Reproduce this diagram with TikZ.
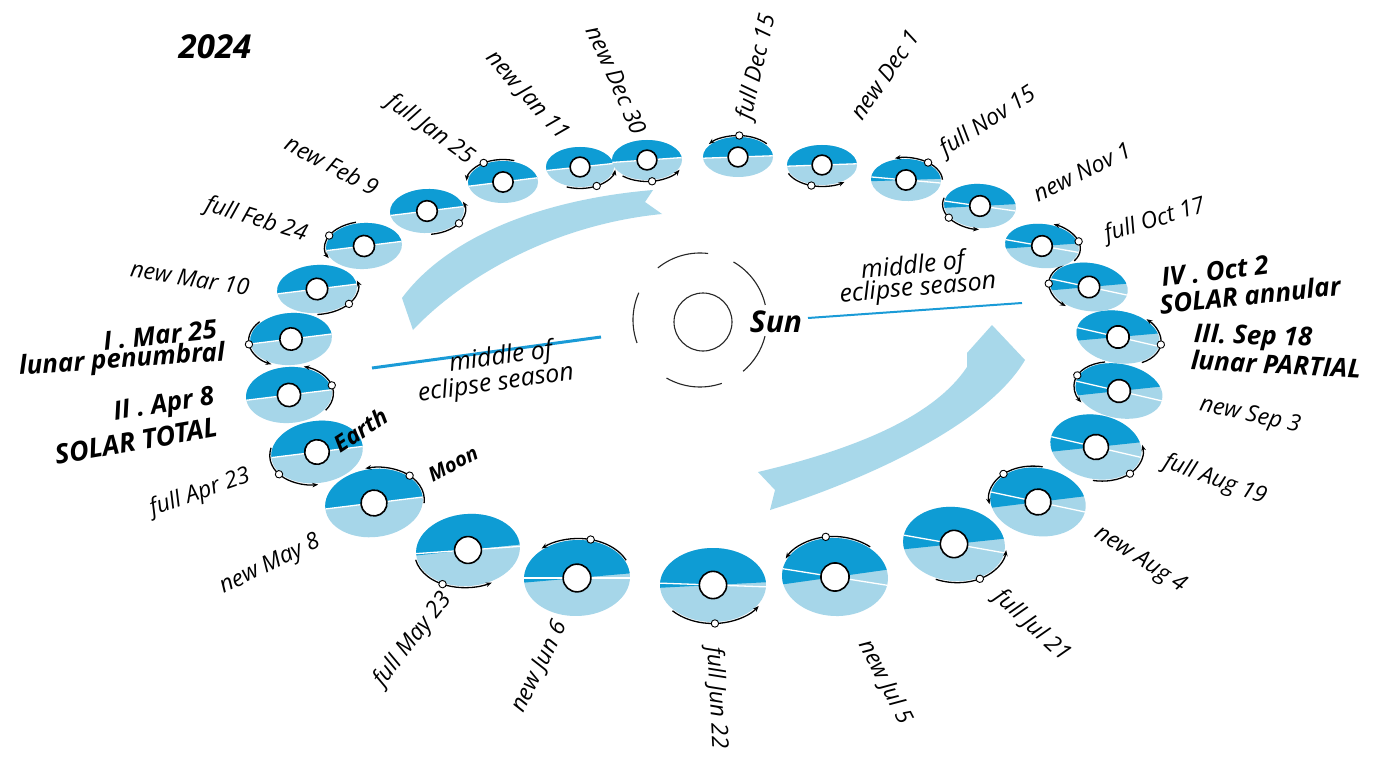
\documentclass[tikz,border=0pt]{standalone}
\usepackage{fontspec}
\setmainfont{Open Sans}
\usetikzlibrary{arrows.meta,calc}
\definecolor{darkb}{RGB}{14,156,212}
\definecolor{lightb}{RGB}{166,214,233}
\definecolor{ribbon}{RGB}{168,216,234}
\definecolor{seasonline}{RGB}{26,155,215}
\tikzset{
  lab/.style={font=\fontsize{23}{26}\selectfont\itshape, inner sep=0pt},
  blab/.style={font=\fontsize{26}{29}\selectfont\bfseries\itshape, inner sep=0pt},
  orbarc/.style={black, line width=1.3pt, -{Stealth[length=6pt,width=4.5pt]}},
  earthc/.style={draw=black, fill=white, line width=1.6pt},
  moonc/.style={draw=black, fill=white, line width=0.9pt},
  ribbonfill/.style={fill=ribbon, draw=none},
  seasonln/.style={draw=seasonline},
  sunring/.style={draw=black!85, line width=1.1pt}
}
% #1 cx, #2 cy, #3 rx, #4 ry, #5 rotation, #6 boundary tilt, #7 white line tilt, #8 moon angle
\newcommand\orbdisk[8]{%
\begin{scope}[shift={(#1,#2)}, rotate=#5]
  \begin{scope}
    \clip (0,0) ellipse [x radius=#3, y radius=#4];
    \fill[lightb] (-70,-70) rectangle (70,70);
    \fill[darkb, rotate={#6-(#5)}] (-90,0) rectangle (90,-90);
    \draw[white, line width=1.3pt, rotate={#7-(#5)}] (-90,0) -- (90,0);
  \end{scope}
  \pgfmathsetmacro\ra{#3+1.5}%
  \pgfmathsetmacro\rb{#4+1.5}%
  \pgfmathsetmacro\sa{#8+50}%
  \pgfmathsetmacro\ea{#8-55}%
  \pgfmathsetmacro\er{5.5+0.22*#4}%
  \draw[orbarc] (\sa:\ra\space and \rb) arc[start angle=\sa, end angle=\ea, x radius=\ra, y radius=\rb];
  \draw[moonc] (#8:\ra\space and \rb) circle[radius=3.7];
  \draw[earthc] (0,0) circle[radius=\er];
\end{scope}}
\begin{document}
\begin{tikzpicture}[x=1pt,y=-1pt]
\useasboundingbox (0,0) rectangle (1392,778);
\fill[white] (0,0) rectangle (1392,778);

% ribbons (Earth's motion)
\fill[ribbonfill] (402,298) .. controls (445,240) and (535,200) .. (653,190)
   -- (645,202) -- (662,214)
   .. controls (550,225) and (460,280) .. (413,330) -- cycle;
\fill[ribbonfill] (758,472) -- (775,490) -- (770,510)
   .. controls (880,475) and (990,420) .. (1025,360)
   -- (992,325) -- (967,353) -- (967,367)
   .. controls (935,415) and (860,448) .. (758,472) -- cycle;

% middle of eclipse season
\coordinate (la) at (372,368); \coordinate (lb) at (601,337);
\coordinate (ra) at (808,318); \coordinate (rb) at (1022,303);
\draw[seasonln, line width=3pt] (la) -- (lb);
\draw[seasonln, line width=2pt] (ra) -- (rb);
\node[lab, font=\fontsize{25}{28}\selectfont\itshape, rotate=8] (ml1) at (501,358) {middle of};
\node[lab, font=\fontsize{25}{28}\selectfont\itshape, rotate=8] (ml2) at (496,384) {eclipse season};
\node[lab, font=\fontsize{25}{28}\selectfont\itshape, rotate=6] (mr1) at (913,267) {middle of};
\node[lab, font=\fontsize{25}{28}\selectfont\itshape, rotate=5] (mr2) at (918,289) {eclipse season};

% Sun
\coordinate (sc) at (700,320);
\draw[sunring] (703,322) circle[radius=29];
\foreach \a/\b in {-129/-83, -60/-13, 14/50, 71/120, 160/204}{
  \draw[sunring] ($(sc)+(\a:67)$) arc[start angle=\a, end angle=\b, radius=67];
}
\node[blab, font=\fontsize{30}{33}\selectfont\bfseries\itshape] (sun) at (776,322) {Sun};

% Earth-Moon discs
\orbdisk{580}{167}{34}{20}{0}{6}{6}{62}
\orbdisk{503}{182}{35}{21}{0}{7}{7}{238}
\orbdisk{427}{211}{37}{22}{2}{7}{7}{35}
\orbdisk{364}{246}{38}{23}{3}{7}{7}{210}
\orbdisk{317}{289}{40}{24}{4}{7}{7}{42}
\orbdisk{291}{339}{41}{26}{4}{7}{7}{175}
\orbdisk{289}{395}{43}{28}{4}{7}{7}{-13}
\orbdisk{317}{452}{46}{31}{8}{7}{7}{149}
\orbdisk{374}{503}{49}{34}{7}{7}{7}{-40}
\orbdisk{468}{550}{52}{36}{5}{6}{4}{122}
\orbdisk{577}{578}{53}{38}{2}{5}{0}{-74}
\orbdisk{713}{585}{53}{37}{0}{3}{-2}{88}
\orbdisk{835}{577}{53}{39}{-3}{8}{-9}{-102}
\orbdisk{954}{544}{51}{37}{-6}{6}{-10}{56}
\orbdisk{1038}{502}{48}{34}{-9}{7}{-12}{-141}
\orbdisk{1096}{447}{46}{32}{-11}{6}{-13}{36}
\orbdisk{1119}{391}{44}{27}{-11}{6}{-13}{-165}
\orbdisk{1118}{337}{42}{26}{-10}{5}{-13}{0}
\orbdisk{1089}{287}{39}{24}{-8}{5}{-12}{175}
\orbdisk{1042}{246}{37}{22}{-6}{4}{-10}{-21}
\orbdisk{980}{206}{36}{22}{-4}{3}{-8}{144}
\orbdisk{906}{180}{35}{21}{-2}{2}{-5}{-54}
\orbdisk{822}{165}{35}{20}{0}{2}{2}{107}
\orbdisk{738}{157}{35}{20}{0}{2}{2}{272}
\orbdisk{647}{160}{35}{20}{0}{4}{4}{82}

% title
\node[blab, font=\fontsize{33}{36}\selectfont\bfseries\itshape] (year) at (215,47) {2024};

% Earth / Moon labels
\node[blab, font=\fontsize{23}{26}\selectfont\bfseries\itshape, rotate=33] (earth) at (361,430) {Earth};
\node[blab, font=\fontsize{20}{23}\selectfont\bfseries\itshape, rotate=28] (moon) at (453,464) {Moon};

% date labels
\node[lab, rotate=-66] (t1) at (617,80) {new Dec 30};
\node[lab, rotate=-48] (t2) at (527,96) {new Jan 11};
\node[lab, rotate=-36] (t3) at (430,130) {full Jan 25};
\node[lab, rotate=-28] (t4) at (332,165) {new Feb 9};
\node[lab, rotate=-17] (t5) at (256,220) {full Feb 24};
\node[lab, rotate=-9] (t6) at (190,278) {new Mar 10};
\node[lab, rotate=19] (t7) at (200,493) {full Apr 23};
\node[lab, rotate=26] (t8) at (270,565) {new May 8};
\node[lab, rotate=52] (t9) at (413,640) {full May 23};
\node[lab, rotate=64] (t10) at (540,667) {new Jun 6};
\node[lab, rotate=-87] (t11) at (716,698) {full Jun 22};
\node[lab, rotate=-63] (t12) at (885,682) {new Jul 5};
\node[lab, rotate=-43] (t13) at (1032,626) {full Jul 21};
\node[lab, rotate=-33] (t14) at (1140,560) {new Aug 4};
\node[lab, rotate=-20] (t15) at (1215,480) {full Aug 19};
\node[lab, rotate=-12] (t16) at (1250,416) {new Sep 3};
\node[lab, rotate=17] (t17) at (1155,221) {full Oct 17};
\node[lab, rotate=26] (t18) at (1082,172) {new Nov 1};
\node[lab, rotate=33] (t19) at (988,122) {full Nov 15};
\node[lab, rotate=55] (t20) at (885,75) {new Dec 1};
\node[lab, rotate=77] (t21) at (757,67) {full Dec 15};

% eclipse labels
\node[blab, rotate=6] (e1a) at (160,335) {I . Mar 25};
\node[blab, rotate=4] (e1b) at (122,361) {lunar penumbral};
\node[blab, rotate=9] (e2a) at (164,406) {II . Apr 8};
\node[blab, font=\fontsize{27}{30}\selectfont\bfseries\itshape, rotate=10] (e2b) at (136,441) {SOLAR TOTAL};
\node[blab, rotate=7] (e4a) at (1215,271) {IV . Oct 2};
\node[blab, rotate=6] (e4b) at (1250,295) {SOLAR annular};
\node[blab, rotate=-2] (e3a) at (1253,338) {III. Sep 18};
\node[blab, rotate=-3] (e3b) at (1276,364) {lunar PARTIAL};
\end{tikzpicture}
\end{document}
